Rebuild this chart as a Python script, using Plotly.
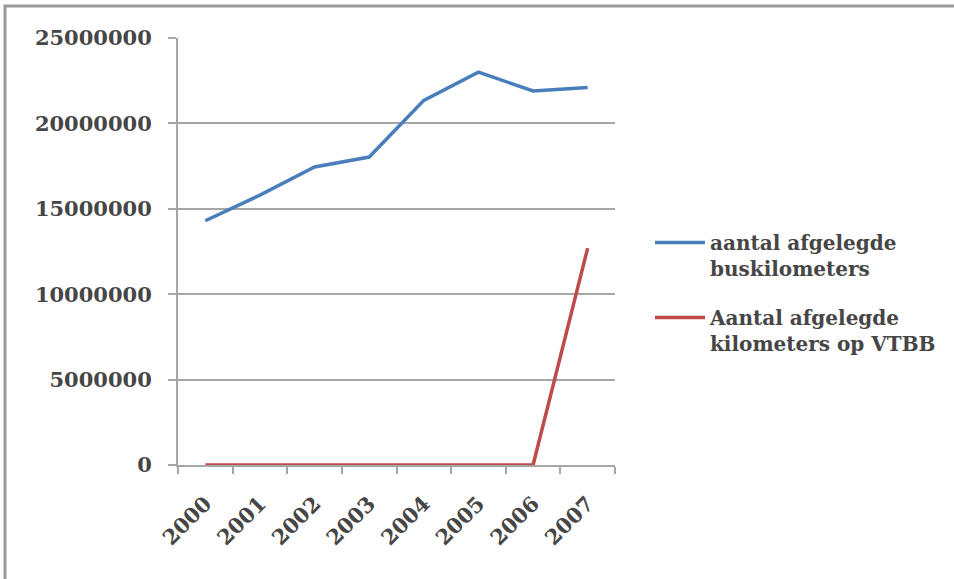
import plotly.graph_objects as go

# Yearly kilometres driven
years = ["2000", "2001", "2002", "2003", "2004", "2005", "2006", "2007"]
bus_km = [14300000, 15800000, 17450000, 18030000, 21350000, 23000000, 21900000, 22100000]
vtbb_km = [0, 0, 0, 0, 0, 0, 0, 12700000]

series_names = [
    "aantal afgelegde<br>buskilometers",
    "Aantal afgelegde<br>kilometers op VTBB",
]
y_ticks = [0, 5000000, 10000000, 15000000, 20000000, 25000000]

W, H = 954, 579
L, R, T, B = 178, 339, 38, 114
pw, ph = W - L - R, H - T - B

font_family = "DejaVu Serif"
text_color = "#464646"
grid_color = "#a6a6a6"
tick_font = dict(family=font_family, size=21, color=text_color, weight="bold")

fig = go.Figure()
fig.add_trace(go.Scatter(
    x=years, y=bus_km, mode="lines", name=series_names[0], legendgroup="bus",
    line=dict(color="#4a7ebb", width=3.5),
))
fig.add_trace(go.Scatter(
    x=years, y=vtbb_km, mode="lines", name=series_names[1], legendgroup="vtbb",
    line=dict(color="#be4b48", width=3.5),
))

# outer frame of the chart area
fig.add_shape(
    type="rect", xref="paper", yref="paper",
    x0=(5 - L) / pw, x1=(W + 10 - L) / pw,
    y0=(T + ph - (H + 10)) / ph, y1=(T + ph - 6) / ph,
    line=dict(color="#9a9a9a", width=3), fillcolor="rgba(0,0,0,0)",
    layer="below",
)

fig.update_layout(
    width=W, height=H,
    margin=dict(l=L, r=R, t=T, b=B),
    paper_bgcolor="white", plot_bgcolor="white",
    font=dict(family=font_family, size=21, color=text_color),
    showlegend=True,
    legend=dict(
        x=(650 - L) / pw, y=(T + ph - 223) / ph,
        xanchor="left", yanchor="top",
        font=dict(family=font_family, size=20, color=text_color, weight="bold"),
        itemwidth=50, valign="top", tracegroupgap=20,
        bgcolor="rgba(0,0,0,0)",
    ),
    xaxis=dict(
        type="category", tickangle=-45, tickson="boundaries",
        ticks="outside", ticklen=7, tickcolor=grid_color, tickwidth=2,
        showline=True, linecolor=grid_color, linewidth=2,
        showgrid=False, zeroline=False,
        range=[-0.5, 7.5], tickfont=tick_font, ticklabelstandoff=16,
    ),
    yaxis=dict(
        range=[0, 25000000], tickvals=y_ticks,
        ticktext=[str(v) for v in y_ticks],
        ticks="outside", ticklen=8, tickcolor=grid_color, tickwidth=2,
        showline=True, linecolor=grid_color, linewidth=2,
        showgrid=True, gridcolor=grid_color, gridwidth=2,
        zeroline=False, tickfont=tick_font, ticklabelstandoff=12,
    ),
)

fig.write_html("out.html")
